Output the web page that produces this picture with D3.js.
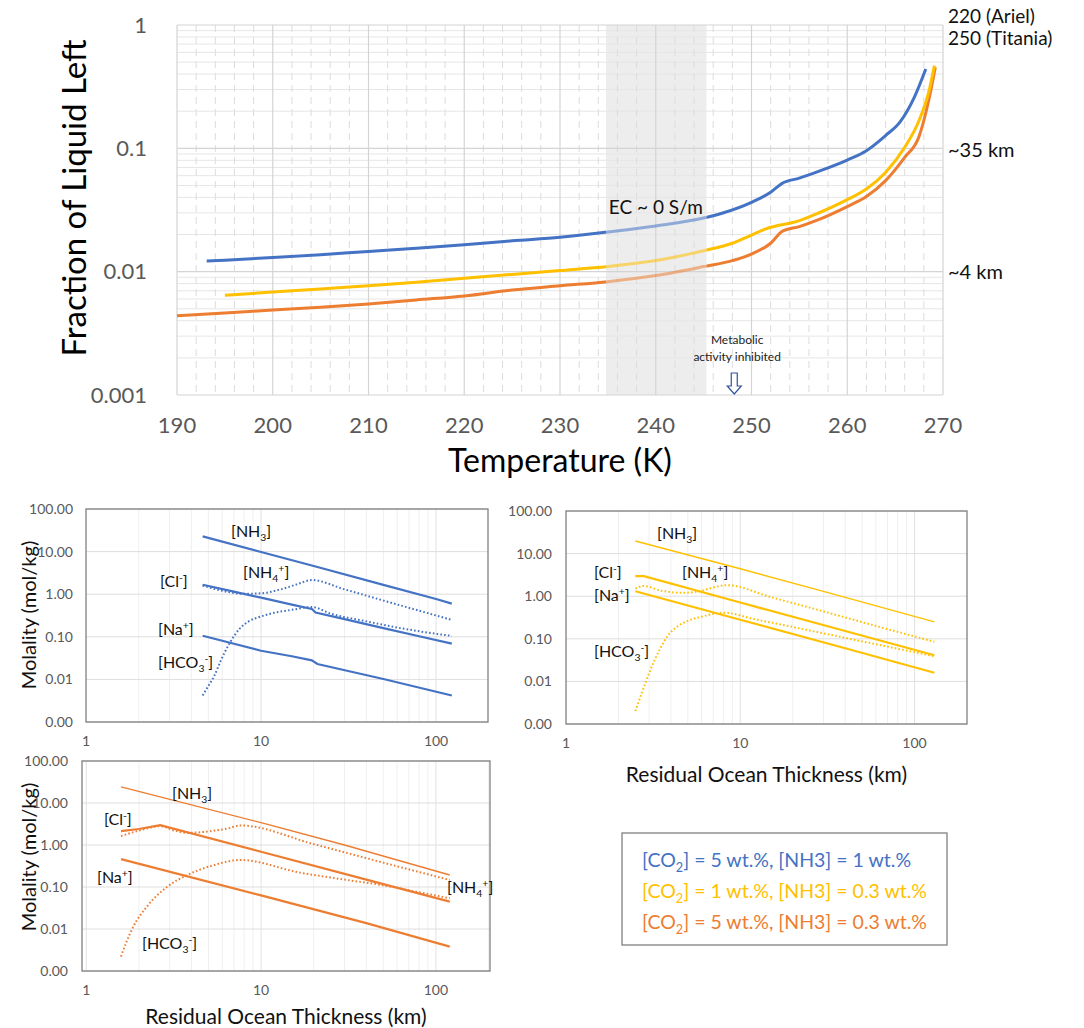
<!DOCTYPE html>
<html>
<head>
<meta charset="utf-8">
<script src="https://cdn.jsdelivr.net/npm/d3@7"></script>
<style>
  body { margin: 0; background: #fff; }
  svg { display: block; font-family: Lato, "Open Sans", sans-serif; }
</style>
</head>
<body>
<div id="chart"></div>
<script>
// ---- top chart data (temperature K, fraction of liquid left) ----
var tempTicks = [190, 200, 210, 220, 230, 240, 250, 260, 270];
var fracTicks = [1, 0.1, 0.01, 0.001];
var fracTickLabels = ["1", "0.1", "0.01", "0.001"];
var ecBand = [234.8, 245.3];

var blueCurve = [[193.1,0.0122],[195,0.0124],[200,0.0130],[205,0.0137],[210,0.0146],[215,0.0155],[220,0.0165],
  [225,0.0178],[230,0.0190],[235,0.0210],[240,0.0235],[245,0.0272],[247,0.0299],[250,0.0365],[252,0.0440],
  [253.2,0.0520],[255,0.0574],[257,0.0651],[260,0.0804],[262,0.0957],[264,0.127],[265.5,0.163],[267,0.259],[268.2,0.44]];
var yellowCurve = [[195,0.00643],[200,0.00684],[205,0.00725],[210,0.00769],[215,0.0082],[220,0.00883],[225,0.0095],
  [230,0.0102],[235,0.0110],[240,0.0123],[245,0.0148],[248,0.0170],[250,0.0198],[251.5,0.0222],[255,0.0259],
  [257,0.0299],[260,0.0384],[262,0.0468],[264,0.0638],[266,0.102],[267.5,0.168],[268.5,0.284],[269.1,0.468]];
var orangeCurve = [[190,0.00439],[195,0.00462],[200,0.00489],[205,0.00515],[210,0.00547],[215,0.0059],[220,0.00635],
  [225,0.0071],[230,0.00769],[235,0.0083],[240,0.0093],[245,0.0110],[248,0.0123],[250,0.0139],[252,0.0170],
  [253.2,0.0212],[255,0.0232],[257,0.0264],[260,0.0337],[262,0.0406],[264,0.0547],[266,0.0845],[267.5,0.125],
  [268.5,0.243],[269.2,0.454]];

// ---- lower panels (thickness km, molality mol/kg) ----
var molTicks = [100, 10, 1, 0.1, 0.01, 0.001];
var molTickLabels = ["100.00", "10.00", "1.00", "0.10", "0.01", "0.00"];
var kmTicks = [1, 10, 100];

var blueNH3 = [[4.64,22.8],[10,9.8],[20,4.6],[50,1.66],[100,0.77],[123,0.6]];
var blueCl = [[4.64,1.67],[7,1.15],[10,0.83],[15,0.57],[19.5,0.45],[20.5,0.37],[30,0.26],[50,0.16],[80,0.103],[123,0.069]];
var blueNH4 = [[4.64,1.6],[6,1.2],[8,1.02],[10,1.05],[13,1.3],[16,1.7],[19.5,2.15],[30,1.3],[50,0.71],[80,0.41],[123,0.25]];
var blueHCO3 = [[4.64,0.0042],[5.0,0.007],[5.4,0.012],[5.9,0.028],[6.6,0.07],[7.5,0.15],[8.5,0.23],[10,0.3],[12,0.37],
  [15,0.43],[19.5,0.5],[25,0.35],[40,0.23],[60,0.165],[90,0.125],[123,0.105]];
var blueNa = [[4.64,0.106],[10,0.047],[15,0.035],[19.5,0.028],[21,0.023],[50,0.0102],[123,0.0042]];

var yelNH3 = [[2.5,19.8],[10,4.4],[30,1.3],[130,0.25]];
var yelCl = [[2.5,2.95],[2.8,2.95],[10,0.71],[40,0.152],[130,0.041]];
var yelNa = [[2.5,1.31],[10,0.28],[40,0.06],[130,0.016]];
var yelNH4 = [[2.5,1.51],[2.8,1.74],[3.5,1.35],[4.75,1.2],[6,1.35],[7.2,1.65],[8.4,1.81],[15,0.95],[30,0.44],[60,0.2],[130,0.085]];
var yelHCO3 = [[2.5,0.002],[2.75,0.006],[3.05,0.0186],[3.4,0.05],[3.8,0.112],[4.4,0.2],[4.96,0.26],[6,0.33],[8.06,0.41],
  [12,0.29],[22,0.175],[50,0.087],[130,0.039]];

var orNH3 = [[1.58,24.2],[10,3.4],[30,1.0],[120,0.193]];
var orCl = [[1.58,2.14],[2,2.4],[2.65,2.97],[10,0.69],[40,0.15],[120,0.045]];
var orNH4 = [[1.58,1.63],[2.0,2.2],[2.65,2.8],[3.2,2.2],[3.76,1.95],[5,2.1],[6.5,2.5],[7.6,2.92],[20,1.05],[50,0.38],[120,0.147]];
var orHCO3 = [[1.58,0.0022],[1.7,0.005],[1.86,0.0115],[2.22,0.034],[2.89,0.1],[3.76,0.19],[5.34,0.33],[7.6,0.44],
  [16.7,0.22],[30,0.15],[50,0.11],[80,0.075],[120,0.054]];
var orNa = [[1.58,0.46],[10,0.063],[40,0.0138],[120,0.0038]];

var legendLines = ["[CO_2] = 5 wt.%, [NH3] = 1 wt.%", "[CO_2] = 1 wt.%, [NH3] = 0.3 wt.%", "[CO_2] = 5 wt.%, [NH3] = 0.3 wt.%"];

var BLUE = "#4472C4", YELLOW = "#FFC000", ORANGE = "#ED7D31";

var svg = d3.select("#chart").append("svg").attr("width", 1084).attr("height", 1028);
var defs = svg.append("defs");

// writes text with _x as subscript and ^x as superscript
function chem(sel, str, size) {
    var off = 0;
    var i = 0;
    while (i < str.length) {
        var type = "n", ch = str[i];
        if (ch === "_" || ch === "^") { type = ch; ch = str[i + 1]; i += 2; }
        else {
            var j = i;
            while (j < str.length && str[j] !== "_" && str[j] !== "^") j++;
            ch = str.slice(i, j); i = j;
        }
        var target = type === "_" ? size * 0.28 : (type === "^" ? -size * 0.38 : 0);
        sel.append("tspan")
            .attr("dy", target - off)
            .attr("font-size", type === "n" ? size : size * 0.65)
            .text(ch);
        off = target;
    }
}

/* ---------------- top chart ---------------- */
(function () {
    var box = { left: 177, right: 943, top: 25, bottom: 395 };
    var x = d3.scaleLinear().domain([190, 270]).range([box.left, box.right]);
    var y = d3.scaleLog().domain([0.001, 1]).range([box.bottom, box.top]);
    var g = svg.append("g");

    g.append("rect")
        .attr("x", x(ecBand[0])).attr("y", box.top)
        .attr("width", x(ecBand[1]) - x(ecBand[0])).attr("height", box.bottom - box.top)
        .attr("fill", "#ededed");

    // minor gridlines
    var minorY = [];
    [0.001, 0.01, 0.1].forEach(function (d) { for (var k = 2; k < 10; k++) minorY.push(d * k); });
    g.selectAll(".minY").data(minorY).enter().append("line")
        .attr("x1", box.left).attr("x2", box.right)
        .attr("y1", d => y(d)).attr("y2", d => y(d))
        .attr("stroke", "#e6e6e6").attr("stroke-width", 1);
    var minorX = d3.range(192, 270, 2).filter(d => d % 10 !== 0);
    g.selectAll(".minX").data(minorX).enter().append("line")
        .attr("x1", d => x(d)).attr("x2", d => x(d))
        .attr("y1", box.top).attr("y2", box.bottom)
        .attr("stroke", "#dcdcdc").attr("stroke-width", 1).attr("stroke-dasharray", "7,5");
    // major gridlines
    g.selectAll(".majY").data(fracTicks).enter().append("line")
        .attr("x1", box.left).attr("x2", box.right)
        .attr("y1", d => y(d)).attr("y2", d => y(d))
        .attr("stroke", "#d4d4d4").attr("stroke-width", 1.2);
    g.selectAll(".majX").data(tempTicks).enter().append("line")
        .attr("x1", d => x(d)).attr("x2", d => x(d))
        .attr("y1", box.top).attr("y2", box.bottom)
        .attr("stroke", "#d4d4d4").attr("stroke-width", 1.2);

    // tick labels
    g.selectAll(".yl").data(fracTicks).enter().append("text")
        .attr("x", box.left - 30).attr("y", d => y(d)).attr("dy", "0.35em")
        .attr("text-anchor", "end").attr("font-size", 22).attr("fill", "#595959")
        .text((d, i) => fracTickLabels[i]);
    g.selectAll(".xl").data(tempTicks).enter().append("text")
        .attr("x", d => x(d)).attr("y", box.bottom + 38)
        .attr("text-anchor", "middle").attr("font-size", 22).attr("fill", "#595959")
        .text(d => d);

    // curves, faded where they cross the EC band
    var cin = defs.append("clipPath").attr("id", "inBand");
    cin.append("rect").attr("x", x(ecBand[0])).attr("y", 0)
        .attr("width", x(ecBand[1]) - x(ecBand[0])).attr("height", 500);
    var cout = defs.append("clipPath").attr("id", "outBand");
    cout.append("rect").attr("x", 0).attr("y", 0).attr("width", x(ecBand[0])).attr("height", 500);
    cout.append("rect").attr("x", x(ecBand[1])).attr("y", 0).attr("width", 1084).attr("height", 500);

    var line = d3.line().x(d => x(d[0])).y(d => y(d[1])).curve(d3.curveMonotoneX);
    var curves = [[blueCurve, BLUE], [orangeCurve, ORANGE], [yellowCurve, YELLOW]];
    curves.forEach(function (c) {
        g.append("path").attr("d", line(c[0])).attr("fill", "none").attr("stroke", c[1])
            .attr("stroke-width", 3).attr("clip-path", "url(#outBand)");
        g.append("path").attr("d", line(c[0])).attr("fill", "none").attr("stroke", c[1])
            .attr("stroke-width", 3).attr("opacity", 0.55).attr("clip-path", "url(#inBand)");
    });

    // annotations
    g.append("text").attr("x", x(235.1)).attr("y", 214).attr("font-size", 19).attr("fill", "#111")
        .text("EC ~ 0 S/m");
    g.append("text").attr("x", x(248.5)).attr("y", 344).attr("text-anchor", "middle")
        .attr("font-size", 12).attr("fill", "#222").text("Metabolic");
    g.append("text").attr("x", x(248.5)).attr("y", 361).attr("text-anchor", "middle")
        .attr("font-size", 12).attr("fill", "#222").text("activity inhibited");
    var ax = x(248.2);
    g.append("path")
        .attr("d", "M" + (ax - 3) + ",373 L" + (ax + 3) + ",373 L" + (ax + 3) + ",386 L" + (ax + 7) + ",386 L" +
            ax + ",394 L" + (ax - 7) + ",386 L" + (ax - 3) + ",386 Z")
        .attr("fill", "#fff").attr("stroke", "#2F5597").attr("stroke-width", 1.2);

    var right = [["220 (Ariel)", 23, 19], ["250 (Titania)", 45, 19], ["~35 km", 157, 20], ["~4 km", 279, 20]];
    right.forEach(function (r) {
        g.append("text").attr("x", 948).attr("y", r[1]).attr("font-size", r[2]).attr("fill", "#111").text(r[0]);
    });

    g.append("text").attr("x", 560).attr("y", 472).attr("text-anchor", "middle")
        .attr("font-size", 32).attr("fill", "#000").text("Temperature (K)");
    g.append("text").attr("transform", "translate(86,198) rotate(-90)").attr("text-anchor", "middle")
        .attr("font-size", 33).attr("fill", "#000").text("Fraction of Liquid Left");
})();

/* ---------------- small molality panels ---------------- */
function drawPanel(p) {
    var px = d3.scaleLog().domain(p.xDomain).range([p.left, p.right]);
    var py = d3.scaleLog().domain([0.001, 100]).range([p.bottom, p.top]);
    var g = svg.append("g");

    var vx = [];
    [1, 10, 100].forEach(function (d) {
        for (var k = 1; k < 10; k++) { var v = d * k; if (v > p.xDomain[0] && v < p.xDomain[1]) vx.push(v); }
    });
    g.selectAll(".vx").data(vx).enter().append("line")
        .attr("x1", d => px(d)).attr("x2", d => px(d)).attr("y1", p.top).attr("y2", p.bottom)
        .attr("stroke", d => kmTicks.indexOf(d) >= 0 ? "#e2e2e2" : "#efefef").attr("stroke-width", 1);
    g.selectAll(".hy").data(molTicks).enter().append("line")
        .attr("x1", p.left).attr("x2", p.right).attr("y1", d => py(d)).attr("y2", d => py(d))
        .attr("stroke", "#dedede").attr("stroke-width", 1);

    g.selectAll(".yl").data(molTicks).enter().append("text")
        .attr("x", p.yLabelX).attr("y", d => py(d)).attr("dy", "0.35em")
        .attr("text-anchor", "end").attr("font-size", 14).attr("fill", "#595959")
        .text((d, i) => molTickLabels[i]);
    g.selectAll(".xl").data(kmTicks).enter().append("text")
        .attr("x", d => px(d)).attr("y", p.bottom + 24)
        .attr("text-anchor", "middle").attr("font-size", 14).attr("fill", "#595959")
        .text(d => d);

    var straight = d3.line().x(d => px(d[0])).y(d => py(d[1]));
    var smooth = d3.line().x(d => px(d[0])).y(d => py(d[1])).curve(d3.curveMonotoneX);
    p.series.forEach(function (s) {
        var path = g.append("path").attr("fill", "none").attr("stroke", p.color);
        if (s[1] === "thick") path.attr("d", straight(s[0])).attr("stroke-width", 2.2);
        else if (s[1] === "thin") path.attr("d", straight(s[0])).attr("stroke-width", 1.4);
        else path.attr("d", smooth(s[0])).attr("stroke-width", 2).attr("stroke-dasharray", "1.6,2.2");
    });

    g.append("rect").attr("x", p.left).attr("y", p.top)
        .attr("width", p.right - p.left).attr("height", p.bottom - p.top)
        .attr("fill", "none").attr("stroke", "#808080").attr("stroke-width", 1.3);

    p.labels.forEach(function (l) {
        var t = g.append("text").attr("x", l[1]).attr("y", l[2]).attr("fill", "#111");
        chem(t, l[0], 16);
    });

    if (p.xTitle) {
        g.append("text").attr("x", (p.left + p.right) / 2).attr("y", p.xTitleY)
            .attr("text-anchor", "middle").attr("font-size", 21).attr("fill", "#111").text(p.xTitle);
    }
    if (p.yTitle) {
        g.append("text").attr("transform", "translate(36," + p.yTitleY + ") rotate(-90)")
            .attr("text-anchor", "middle").attr("font-size", 20).attr("fill", "#111").text(p.yTitle);
    }
}

drawPanel({
    left: 86, right: 488, top: 509, bottom: 722, xDomain: [1, 198], yLabelX: 73, color: BLUE,
    series: [[blueNH3, "thick"], [blueCl, "thick"], [blueNa, "thick"], [blueNH4, "dot"], [blueHCO3, "dot"]],
    labels: [["[NH_3]", 231, 537], ["[NH_4^+]", 243, 578], ["[Cl^-]", 160, 587], ["[Na^+]", 158, 635], ["[HCO_3^-]", 158, 668]],
    yTitle: "Molality (mol/kg)", yTitleY: 615
});
drawPanel({
    left: 566, right: 967, top: 511, bottom: 724, xDomain: [1, 200], yLabelX: 552, color: YELLOW,
    series: [[yelNH3, "thin"], [yelCl, "thick"], [yelNa, "thick"], [yelNH4, "dot"], [yelHCO3, "dot"]],
    labels: [["[NH_3]", 657, 539], ["[Cl^-]", 594, 578], ["[NH_4^+]", 682, 578], ["[Na^+]", 594, 601], ["[HCO_3^-]", 594, 657]],
    xTitle: "Residual Ocean Thickness (km)", xTitleY: 782
});
drawPanel({
    left: 82, right: 490, top: 761, bottom: 971, xDomain: [0.945, 204], yLabelX: 68, color: ORANGE,
    series: [[orNH3, "thin"], [orCl, "thick"], [orNa, "thick"], [orNH4, "dot"], [orHCO3, "dot"]],
    labels: [["[NH_3]", 172, 799], ["[Cl^-]", 104, 825], ["[Na^+]", 97, 883], ["[NH_4^+]", 447, 893], ["[HCO_3^-]", 142, 949]],
    xTitle: "Residual Ocean Thickness (km)", xTitleY: 1024,
    yTitle: "Molality (mol/kg)", yTitleY: 857
});

// legend box
(function () {
    var g = svg.append("g");
    g.append("rect").attr("x", 622).attr("y", 833).attr("width", 325).attr("height", 112)
        .attr("fill", "#fff").attr("stroke", "#808080").attr("stroke-width", 1.3);
    var cols = [BLUE, YELLOW, ORANGE];
    legendLines.forEach(function (s, i) {
        var t = g.append("text").attr("x", 642).attr("y", 867 + i * 31).attr("fill", cols[i]);
        chem(t, s, 19.5);
    });
})();
</script>
</body>
</html>
